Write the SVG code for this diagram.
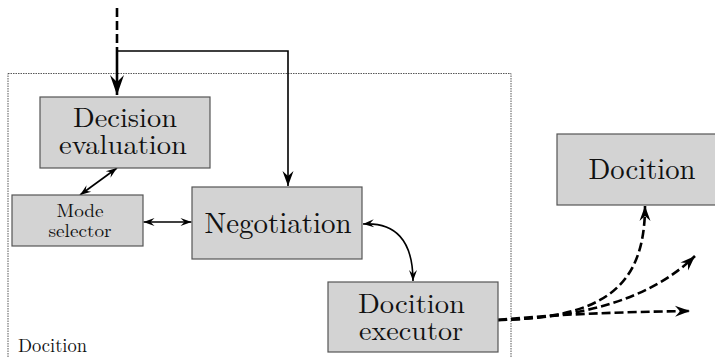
<svg xmlns="http://www.w3.org/2000/svg" width="715" height="358" viewBox="0 0 715 358">
  <style>
    .box { fill: #d3d3d3; stroke: #555; stroke-width: 1.2; }
    .lbl { fill: #111; font-family: "Latin Modern Roman", "CMU Serif", "Liberation Serif", "DejaVu Serif", "Noto Serif", Tinos, "Times New Roman", Times, "Nimbus Roman", FreeSerif, serif; }
    .solid { fill: none; stroke: #000; stroke-width: 1.6; }
    .dash { fill: none; stroke: #000; stroke-width: 2.6; stroke-dasharray: 9 4; }
  </style>
  <defs>
    <marker id="ahBig" markerUnits="userSpaceOnUse" orient="auto" refX="0" refY="0" markerWidth="30" markerHeight="30" viewBox="-24 -12 30 24" overflow="visible">
      <path d="M0,0 L-20,-7 L-13,0 L-20,7 Z" fill="#000"/>
    </marker>
    <marker id="ahMid" markerUnits="userSpaceOnUse" orient="auto" refX="0" refY="0" markerWidth="20" markerHeight="20" viewBox="-18 -9 20 18" overflow="visible">
      <path d="M0,0 L-15,-5.5 L-10,0 L-15,5.5 Z" fill="#000"/>
    </marker>
    <marker id="ahSmall" markerUnits="userSpaceOnUse" orient="auto-start-reverse" refX="0" refY="0" markerWidth="14" markerHeight="14" viewBox="-12 -6 14 12" overflow="visible">
      <path d="M0,0 L-11,-4 L-7,0 L-11,4 Z" fill="#000"/>
    </marker>
  </defs>

  <!-- enclosing agent frame -->
  <g id="frame">
    <rect x="8" y="73.5" width="503" height="300" fill="none" stroke="#444" stroke-width="0.9" stroke-dasharray="1.5 1"/>
    <text class="lbl" x="18" y="352" font-size="19" textLength="69" lengthAdjust="spacingAndGlyphs">Docition</text>
  </g>

  <!-- connectors -->
  <g id="connectors">
    <line class="dash" x1="117" y1="8" x2="117" y2="50" stroke-width="3"/>
    <line x1="117" y1="50" x2="117" y2="95" stroke="#000" stroke-width="2.6" marker-end="url(#ahBig)"/>
    <polyline class="solid" points="117,51 288,51 288,186" marker-end="url(#ahMid)"/>
    <line class="solid" x1="117" y1="168" x2="80" y2="195" marker-start="url(#ahSmall)" marker-end="url(#ahSmall)"/>
    <line class="solid" x1="143.5" y1="222" x2="191.5" y2="222" marker-start="url(#ahSmall)" marker-end="url(#ahSmall)"/>
    <path class="solid" d="M363,224 C395,222 413,240 413,281" marker-start="url(#ahSmall)" marker-end="url(#ahSmall)"/>
    <path class="dash" d="M498,320 C600,318 645,290 645,206" marker-end="url(#ahMid)"/>
    <path class="dash" d="M498,320 C580,318 650,300 695,256" marker-end="url(#ahMid)"/>
    <path class="dash" d="M498,320 C560,314 620,312 690,311" marker-end="url(#ahMid)"/>
  </g>

  <g id="decision-evaluation" text-anchor="middle" font-size="27">
    <rect class="box" x="40" y="97" width="170" height="71"/>
    <text class="lbl" x="125" y="127" textLength="104" lengthAdjust="spacingAndGlyphs">Decision</text>
    <text class="lbl" x="123" y="154" textLength="128" lengthAdjust="spacingAndGlyphs">evaluation</text>
  </g>

  <g id="mode-selector" text-anchor="middle" font-size="18">
    <rect class="box" x="12" y="195" width="131" height="51"/>
    <text class="lbl" x="80" y="217" textLength="47" lengthAdjust="spacingAndGlyphs">Mode</text>
    <text class="lbl" x="80" y="237" textLength="63" lengthAdjust="spacingAndGlyphs">selector</text>
  </g>

  <g id="negotiation" text-anchor="middle" font-size="29">
    <rect class="box" x="192" y="187" width="170" height="72"/>
    <text class="lbl" x="278" y="233" textLength="147" lengthAdjust="spacingAndGlyphs">Negotiation</text>
  </g>

  <g id="docition-executor" text-anchor="middle" font-size="27">
    <rect class="box" x="328" y="282" width="170" height="70"/>
    <text class="lbl" x="411.5" y="313" textLength="107" lengthAdjust="spacingAndGlyphs">Docition</text>
    <text class="lbl" x="411" y="340" textLength="104" lengthAdjust="spacingAndGlyphs">executor</text>
  </g>

  <g id="docition" text-anchor="middle" font-size="29">
    <rect class="box" x="557" y="134" width="170" height="71"/>
    <text class="lbl" x="642" y="179" textLength="107" lengthAdjust="spacingAndGlyphs">Docition</text>
  </g>
</svg>
